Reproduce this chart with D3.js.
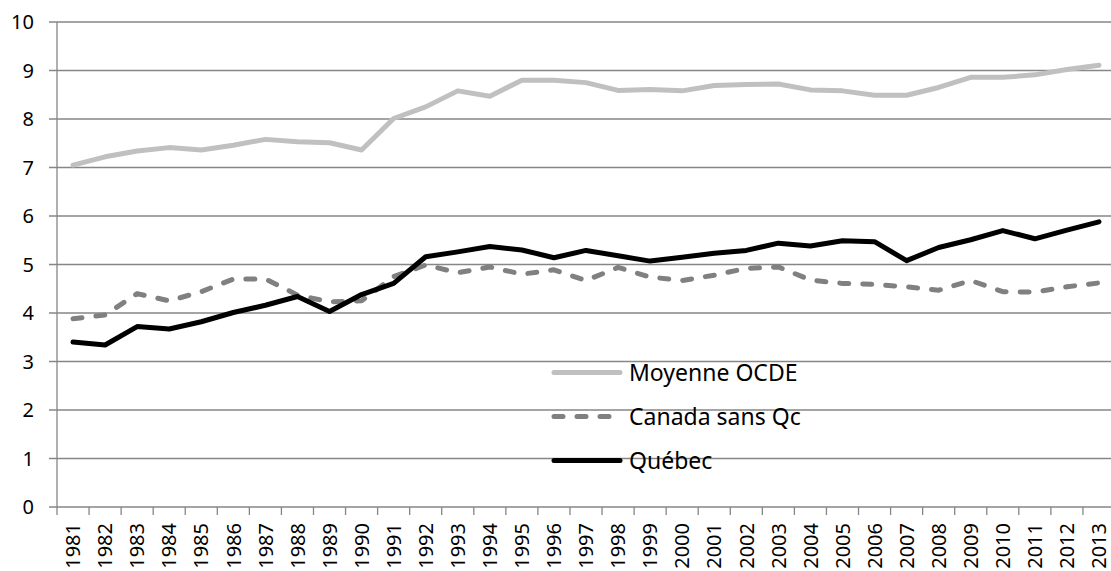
<!DOCTYPE html>
<html>
<head>
<meta charset="utf-8">
<script src="https://cdn.jsdelivr.net/npm/d3@7"></script>
<style>
  body { margin: 0; background: #fff; }
  svg { display: block; font-family: "Noto Sans", "Open Sans", sans-serif; }
</style>
</head>
<body>
<div id="chart"></div>
<script>
// données
var years = d3.range(1981, 2014)
var ocde = [7.05, 7.22, 7.34, 7.41, 7.36, 7.46, 7.58, 7.53, 7.51, 7.36, 8.01,
  8.25, 8.58, 8.47, 8.80, 8.80, 8.75, 8.59, 8.61, 8.58, 8.69, 8.71, 8.72,
  8.60, 8.58, 8.49, 8.49, 8.65, 8.86, 8.86, 8.91, 9.02, 9.11]
var canada = [3.88, 3.96, 4.40, 4.25, 4.44, 4.70, 4.70, 4.37, 4.23, 4.25, 4.75,
  4.99, 4.83, 4.95, 4.80, 4.89, 4.67, 4.94, 4.74, 4.67, 4.78, 4.92, 4.95,
  4.68, 4.61, 4.59, 4.54, 4.47, 4.67, 4.44, 4.43, 4.54, 4.62]
var quebec = [3.40, 3.34, 3.72, 3.67, 3.82, 4.01, 4.16, 4.34, 4.03, 4.38, 4.61,
  5.16, 5.26, 5.37, 5.30, 5.14, 5.29, 5.18, 5.07, 5.15, 5.23, 5.29, 5.44,
  5.38, 5.49, 5.47, 5.08, 5.35, 5.51, 5.70, 5.53, 5.71, 5.88]
var yTicks = [0, 1, 2, 3, 4, 5, 6, 7, 8, 9, 10]

var series = [
  { name: 'Moyenne OCDE', values: ocde, color: '#c0c0c0', dash: null },
  { name: 'Canada sans Qc', values: canada, color: '#808080', dash: '9,14' },
  { name: 'Québec', values: quebec, color: '#000000', dash: null }
]

var width = 1111
var height = 571
var pad = { left: 57, right: 1115, top: 22, bottom: 507 }

var svg = d3.select('#chart').append('svg')
  .attr('width', width)
  .attr('height', height)

var x = d3.scaleBand().domain(years).range([pad.left, pad.right]).padding(0)
var y = d3.scaleLinear().domain([0, 10]).range([pad.bottom, pad.top])

// grille horizontale
svg.append('g').selectAll('line')
  .data(yTicks)
  .enter()
  .append('line')
  .attr('x1', pad.left - 8)
  .attr('x2', pad.right)
  .attr('y1', function (d) { return y(d) })
  .attr('y2', function (d) { return y(d) })
  .attr('stroke', '#868686')
  .attr('stroke-width', 1.3)

// axe vertical
svg.append('line')
  .attr('x1', pad.left).attr('x2', pad.left)
  .attr('y1', pad.top).attr('y2', pad.bottom)
  .attr('stroke', '#868686')
  .attr('stroke-width', 1.3)

svg.append('g').selectAll('text')
  .data(yTicks)
  .enter()
  .append('text')
  .attr('x', pad.left - 23)
  .attr('y', function (d) { return y(d) })
  .attr('dy', '0.36em')
  .attr('text-anchor', 'end')
  .attr('font-size', '20px')
  .attr('fill', '#000')
  .text(function (d) { return d })

// axe horizontal : graduations entre les catégories
var tickPos = years.map(function (d) { return x(d) }).concat([pad.right])
svg.append('g').selectAll('line')
  .data(tickPos)
  .enter()
  .append('line')
  .attr('x1', function (d) { return d })
  .attr('x2', function (d) { return d })
  .attr('y1', pad.bottom)
  .attr('y2', pad.bottom + 8)
  .attr('stroke', '#868686')
  .attr('stroke-width', 1.3)

svg.append('g').selectAll('text')
  .data(years)
  .enter()
  .append('text')
  .attr('transform', function (d) {
    return 'translate(' + (x(d) + x.bandwidth() / 2) + ',' + (pad.bottom + 16) + ') rotate(-90)'
  })
  .attr('dy', '0.36em')
  .attr('text-anchor', 'end')
  .attr('font-size', '20px')
  .attr('fill', '#000')
  .text(function (d) { return d })

// courbes
var line = d3.line()
  .x(function (d, i) { return x(years[i]) + x.bandwidth() / 2 })
  .y(function (d) { return y(d) })

svg.append('g').selectAll('path')
  .data(series)
  .enter()
  .append('path')
  .attr('d', function (s) { return line(s.values) })
  .attr('fill', 'none')
  .attr('stroke', function (s) { return s.color })
  .attr('stroke-width', 5)
  .attr('stroke-linejoin', 'round')
  .attr('stroke-linecap', 'round')
  .attr('stroke-dasharray', function (s) { return s.dash })

// légende
var legend = svg.append('g').selectAll('g')
  .data(series)
  .enter()
  .append('g')
  .attr('transform', function (d, i) { return 'translate(554,' + (372.5 + i * 44) + ')' })

legend.append('line')
  .attr('x1', 0)
  .attr('x2', 66)
  .attr('stroke', function (s) { return s.color })
  .attr('stroke-width', 5)
  .attr('stroke-linecap', 'round')
  .attr('stroke-dasharray', function (s) { return s.dash })

legend.append('text')
  .attr('x', 75)
  .attr('dy', '0.36em')
  .attr('font-size', '23px')
  .attr('fill', '#000')
  .text(function (s) { return s.name })
</script>
</body>
</html>
